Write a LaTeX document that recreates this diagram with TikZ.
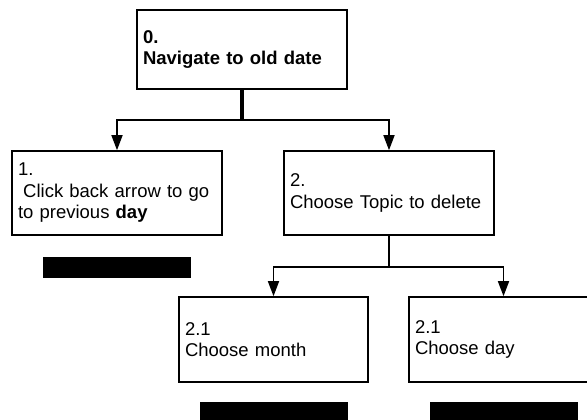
\documentclass[tikz,border=0pt]{standalone}
\usepackage{fontspec}
\setmainfont{Liberation Sans}
\usetikzlibrary{arrows.meta,positioning}

\begin{document}
\begin{tikzpicture}[
  x=1pt,y=-1pt,
  task/.style={draw,line width=1.6pt,fill=white,align=left,inner xsep=5pt,
    font=\fontsize{18.5}{21.5}\selectfont,minimum height=84pt},
  wide/.style={task,text width=198pt,minimum width=210pt},
  narrow/.style={task,text width=177pt,minimum width=189pt,minimum height=85pt},
  bar/.style={fill=black,minimum width=148pt,minimum height=21pt,inner sep=0pt},
  arr/.style={-{Triangle[length=15pt,width=11pt]},line width=1.6pt}]
\useasboundingbox[fill=white] (0,0) rectangle (587,420);
\clip (0,0) rectangle (587,420);
% top level
\node[wide,minimum height=79pt,font=\fontsize{18.5}{21.5}\selectfont\bfseries] (n0) at (242,49.5) {0.\\Navigate to old date};
\node[wide] (n1) at (117,193) {1.\\\hspace*{0.28em}Click back arrow to go\\to previous \textbf{day}};
\node[wide] (n2) at (389,193) {2.\\Choose Topic to delete};
% second level
\node[narrow] (n21) at (273.5,339.5) {2.1\\Choose month};
\node[narrow] (n22) at (503.5,339.5) {2.1\\Choose day};
% hidden labels
\node[bar,below=21pt of n1] (r1) {};
\node[bar,below=19pt of n21] (r21) {};
\node[bar,below=19pt of n22] (r22) {};
% connectors
\draw[line width=4pt] (n0.south) -- ++(0,30) coordinate (f0);
\draw[line width=1.6pt] (n2.south) -- ++(0,31) coordinate (f2);
\foreach \u/\v in {f0/n1,f0/n2,f2/n21,f2/n22} \draw[arr] (\u) -| (\v.north);
\end{tikzpicture}
\end{document}
